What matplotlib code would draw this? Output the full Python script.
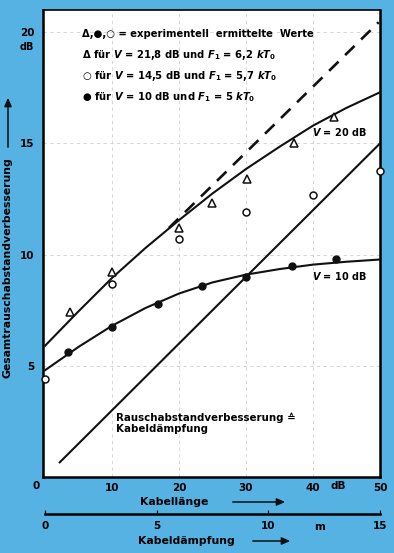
import matplotlib
matplotlib.use("Agg")
import matplotlib.pyplot as plt
import numpy as np

plt.rcParams['font.family'] = ['DejaVu Sans']
plt.rcParams['mathtext.fontset'] = 'custom'
plt.rcParams['mathtext.rm'] = 'DejaVu Sans:bold'
plt.rcParams['mathtext.it'] = 'DejaVu Sans:italic:bold'
plt.rcParams['mathtext.bf'] = 'DejaVu Sans:bold'

# ---------------- data ----------------
x_curve = [0, 5, 10, 15, 20, 25, 30, 35, 40, 45, 50]
v20_curve = [5.9, 7.45, 8.95, 10.3, 11.55, 12.75, 13.85, 14.85, 15.8, 16.6, 17.3]
v10_curve = [4.8, 5.85, 6.8, 7.6, 8.25, 8.75, 9.1, 9.35, 9.55, 9.68, 9.78]

x_dashed = [18.5, 49.8]
y_dashed = [11.2, 20.45]

x_diag = [2.2, 50]
y_diag = [0.66, 15.0]

tri_x = [3.7, 10, 20, 24.9, 30.1, 37.2, 43.1]
tri_y = [7.4, 9.2, 11.2, 12.3, 13.4, 15.0, 16.2]

circ_x = [0, 10, 20, 30, 40, 50]
circ_y = [4.4, 8.7, 10.7, 11.9, 12.7, 13.75]

dot_x = [3.4, 10, 16.9, 23.5, 30, 36.9, 43.4]
dot_y = [5.6, 6.75, 7.8, 8.6, 9.0, 9.5, 9.8]

xticks_main = [10, 20, 30, 40, 50]
yticks_main = [5, 10, 15, 20]
xticks_lower = [0, 5, 10, 15]

legend_lines = [
    "Δ,●,○ = experimentell  ermittelte  Werte",
    r"Δ für $V$ = 21,8 dB und $F_1$ = 6,2 $kT_0$",
    r"○ für $V$ = 14,5 dB und $F_1$ = 5,7 $kT_0$",
    r"● für $V$ = 10 dB und $F_1$ = 5 $kT_0$",
]

# ---------------- figure ----------------
W, H = 394, 553
fig = plt.figure(figsize=(W / 100, H / 100), dpi=100)
bg = '#55b2e2'
fig.patch.set_facecolor(bg)

def fx(px):
    return px / W

def fy(py):
    return 1 - py / H

ax = fig.add_axes([fx(43), fy(477), fx(380) - fx(43), fy(10) - fy(477)])
ax.set_facecolor('white')
ax.set_xlim(-0.3, 50)
ax.set_ylim(0, 21)

for s in ['left', 'bottom', 'right']:
    ax.spines[s].set_linewidth(1.8)
ax.spines['top'].set_linewidth(1.2)

ax.set_xticks(xticks_main)
ax.set_xticklabels([str(v) for v in xticks_main], fontsize=7.5, fontweight='bold')
ax.set_yticks(yticks_main)
ax.set_yticklabels([str(v) for v in yticks_main], fontsize=7.5, fontweight='bold')
ax.tick_params(axis='both', length=0)
ax.tick_params(axis='x', pad=4)
ax.tick_params(axis='y', pad=6)
ax.grid(True, color='#cfcfcf', linestyle=(0, (4, 4)), linewidth=0.6)

ax.text(-1.3, -0.42, "0", fontsize=7.5, fontweight='bold', ha='center', va='center', clip_on=False)
ax.text(43.7, -0.42, "dB", fontsize=7.5, fontweight='bold', ha='center', va='center', clip_on=False)
ax.text(-1.6, 19.35, "dB", fontsize=7, fontweight='bold', ha='right', va='center', clip_on=False)

# curves
ax.plot(x_curve, v20_curve, color='#111111', lw=1.5, zorder=3)
ax.plot(x_curve, v10_curve, color='#111111', lw=1.5, zorder=3)
ax.plot(x_dashed, y_dashed, color='#111111', lw=1.9, linestyle=(0, (5, 3.5)), zorder=3)
ax.plot(x_diag, y_diag, color='#111111', lw=1.5, zorder=3)

# measured points
ax.plot(tri_x, tri_y, linestyle='none', marker='^', markersize=5.5, markerfacecolor='white',
        markeredgecolor='#111111', markeredgewidth=1.1, zorder=4)
ax.plot(circ_x, circ_y, linestyle='none', marker='o', markersize=5, markerfacecolor='white',
        markeredgecolor='#111111', markeredgewidth=1.1, zorder=4, clip_on=False)
ax.plot(dot_x, dot_y, linestyle='none', marker='o', markersize=5, markerfacecolor='#111111',
        markeredgecolor='#111111', zorder=4)

# curve labels
ax.text(43.9, 15.5, r"$V$ = 20 dB", fontsize=7, ha='center', va='center', fontweight='bold')
ax.text(44.0, 9.05, r"$V$ = 10 dB", fontsize=7, ha='center', va='center', fontweight='bold')
ax.text(10.6, 2.4, "Rauschabstandverbesserung ≙\nKabeldämpfung", fontsize=7.4,
        fontweight='bold', ha='left', va='center', linespacing=1.1)

# legend text
leg_y = [34, 55, 76, 97]
for t, py in zip(legend_lines, leg_y):
    fig.text(fx(82), fy(py), t, fontsize=7.2, fontweight='bold', ha='left', va='center')

# y axis label with arrow
fig.text(fx(8), fy(268), "Gesamtrauschabstandverbesserung", rotation=90, fontsize=7.8,
         fontweight='bold', ha='center', va='center')
fig.add_artist(matplotlib.patches.FancyArrowPatch((fx(8), fy(150)), (fx(8), fy(95)),
               transform=fig.transFigure, arrowstyle='-|>,head_length=5,head_width=2.2',
               color='#111111', lw=1.1))

# lower axis (Kabeldämpfung, m)
ax2 = fig.add_axes([fx(45), fy(514), fx(380) - fx(45), 0.0001])
ax2.set_xlim(0, 15)
ax2.patch.set_visible(False)
for s in ['left', 'right', 'top']:
    ax2.spines[s].set_visible(False)
ax2.spines['bottom'].set_linewidth(1.8)
ax2.set_yticks([])
ax2.set_xticks(xticks_lower)
ax2.set_xticklabels([str(v) for v in xticks_lower], fontsize=7.5, fontweight='bold')
ax2.tick_params(axis='x', direction='in', length=3, width=0.8, pad=5)
fig.text(fx(320), fy(527), "m", fontsize=7.5, fontweight='bold', ha='center', va='center')

# bottom axis titles with arrows
fig.text(fx(140), fy(502), "Kabellänge", fontsize=7.8, fontweight='bold', ha='left', va='center')
fig.add_artist(matplotlib.patches.FancyArrowPatch((fx(230), fy(502)), (fx(288), fy(502)),
               transform=fig.transFigure, arrowstyle='-|>,head_length=5,head_width=2.2',
               color='#111111', lw=1.1))
fig.text(fx(138), fy(541), "Kabeldämpfung", fontsize=7.8, fontweight='bold', ha='left', va='center')
fig.add_artist(matplotlib.patches.FancyArrowPatch((fx(250), fy(541)), (fx(293), fy(541)),
               transform=fig.transFigure, arrowstyle='-|>,head_length=5,head_width=2.2',
               color='#111111', lw=1.1))

fig.savefig("out.png", dpi=100, facecolor=bg)
